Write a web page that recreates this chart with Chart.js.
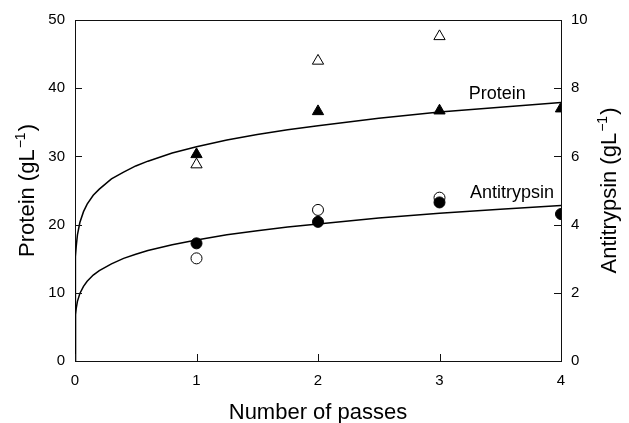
<!DOCTYPE html>
<html>
<head>
<meta charset="utf-8">
<script src="https://cdn.jsdelivr.net/npm/chart.js@4.4.1/dist/chart.umd.min.js"></script>
<style>
  body { margin: 0; background: #fff; }
  #wrap { width: 629px; height: 423px; position: relative; }
</style>
</head>
<body>
<div id="wrap"><canvas id="chart"></canvas></div>
<script>
// measured points (x = number of passes)
const passes = [1, 2, 3, 4];
const proteinFilled = [30.3, 36.6, 36.7, 37.0];      // g/L, left axis
const proteinOpen = [28.8, 44.0, 47.6];              // passes 1-3
const antitrypsinFilled = [3.45, 4.08, 4.65, 4.31];  // g/L, right axis
const antitrypsinOpen = [3.01, 4.43, 4.79];          // passes 1-3

// fitted curves
const curveX = [0, 0.002, 0.005, 0.01, 0.02, 0.04, 0.07, 0.1, 0.15, 0.2, 0.3, 0.4, 0.5, 0.6, 0.8, 1, 1.25, 1.5, 1.75, 2, 2.5, 3, 3.5, 4];
const proteinCurve = [0, 13.5, 15.3, 16.8, 18.5, 20.3, 21.9, 23.0, 24.3, 25.2, 26.7, 27.7, 28.6, 29.3, 30.5, 31.4, 32.4, 33.2, 33.9, 34.5, 35.6, 36.5, 37.2, 37.9];
const antitrypsinCurve = [0, 1.15, 1.36, 1.54, 1.75, 1.98, 2.19, 2.34, 2.52, 2.65, 2.85, 3.01, 3.13, 3.24, 3.41, 3.55, 3.70, 3.82, 3.93, 4.02, 4.19, 4.33, 4.45, 4.56];

// axis ticks
const xTicks = [0, 1, 2, 3, 4];
const proteinTicks = [0, 10, 20, 30, 40, 50];
const antitrypsinTicks = [0, 2, 4, 6, 8, 10];

// curve labels
const curveLabels = ['Protein', 'Antitrypsin'];
const curveLabelX = [3.24, 3.25];
const curveLabelY = [39.1, 4.93];
const curveLabelAxis = ['y', 'y2'];

const FONT = '"Liberation Sans", Arial, Helvetica, sans-serif';

const pts = (xs, ys) => ys.map((v, i) => ({ x: xs[i], y: v }));

// tick marks point into the plot, plus top frame line
const frameTicks = {
  id: 'frameTicks',
  afterDraw(chart) {
    const { ctx, chartArea: a, scales } = chart;
    const len = 7;
    ctx.save();
    ctx.strokeStyle = '#111';
    ctx.lineWidth = 1;
    ctx.beginPath();
    ctx.moveTo(a.left, Math.round(a.top) + 0.5);
    ctx.lineTo(a.right, Math.round(a.top) + 0.5);
    xTicks.forEach(v => {
      const px = Math.round(scales.x.getPixelForValue(v)) + 0.5;
      ctx.moveTo(px, a.bottom);
      ctx.lineTo(px, a.bottom - len);
    });
    proteinTicks.forEach(v => {
      const py = Math.round(scales.y.getPixelForValue(v)) + 0.5;
      ctx.moveTo(a.left, py);
      ctx.lineTo(a.left + len, py);
    });
    antitrypsinTicks.forEach(v => {
      const py = Math.round(scales.y2.getPixelForValue(v)) + 0.5;
      ctx.moveTo(a.right, py);
      ctx.lineTo(a.right - len, py);
    });
    ctx.stroke();

    // curve labels
    ctx.fillStyle = '#000';
    ctx.font = '18px ' + FONT;
    ctx.textBaseline = 'middle';
    ctx.textAlign = 'left';
    curveLabels.forEach((t, i) => {
      const px = scales.x.getPixelForValue(curveLabelX[i]);
      const py = scales[curveLabelAxis[i]].getPixelForValue(curveLabelY[i]);
      ctx.fillText(t, px, py);
    });
    ctx.restore();
  }
};

// axis titles with a superscript -1
function drawUnitTitle(ctx, name, cx, cy) {
  const main = name + ' (gL';
  const sup = '\u22121';
  ctx.save();
  ctx.translate(cx, cy);
  ctx.rotate(-Math.PI / 2);
  ctx.fillStyle = '#000';
  ctx.textBaseline = 'alphabetic';
  ctx.textAlign = 'left';
  ctx.font = '22px ' + FONT;
  const w1 = ctx.measureText(main).width;
  const w3 = ctx.measureText(')').width;
  ctx.font = '14px ' + FONT;
  const w2 = ctx.measureText(sup).width;
  const start = -(w1 + w2 + w3 + 2) / 2;
  const base = 7;
  ctx.font = '22px ' + FONT;
  ctx.fillText(main, start, base);
  ctx.font = '14px ' + FONT;
  ctx.fillText(sup, start + w1 + 1, base - 9);
  ctx.font = '22px ' + FONT;
  ctx.fillText(')', start + w1 + w2 + 2, base);
  ctx.restore();
}

const axisTitles = {
  id: 'axisTitles',
  afterDraw(chart) {
    const { ctx, chartArea: a } = chart;
    const cy = (a.top + a.bottom) / 2;
    drawUnitTitle(ctx, 'Protein', 27, cy);
    drawUnitTitle(ctx, 'Antitrypsin', 609, cy);
    ctx.save();
    ctx.fillStyle = '#000';
    ctx.font = '22px ' + FONT;
    ctx.textAlign = 'center';
    ctx.textBaseline = 'alphabetic';
    ctx.fillText('Number of passes', (a.left + a.right) / 2, 419);
    ctx.restore();
  }
};

const tickFont = { family: FONT, size: 15 };

new Chart(document.getElementById('chart'), {
  type: 'scatter',
  data: {
    datasets: [
      { label: 'Protein (filled)', data: pts(passes, proteinFilled), yAxisID: 'y',
        pointStyle: 'triangle', pointRadius: 6.5, backgroundColor: '#000', borderColor: '#000', borderWidth: 1 },
      { label: 'Protein (open)', data: pts(passes, proteinOpen), yAxisID: 'y',
        pointStyle: 'triangle', pointRadius: 6.5, backgroundColor: '#fff', borderColor: '#000', borderWidth: 1 },
      { label: 'Antitrypsin (filled)', data: pts(passes, antitrypsinFilled), yAxisID: 'y2',
        pointStyle: 'circle', pointRadius: 5.5, backgroundColor: '#000', borderColor: '#000', borderWidth: 1 },
      { label: 'Antitrypsin (open)', data: pts(passes, antitrypsinOpen), yAxisID: 'y2',
        pointStyle: 'circle', pointRadius: 5.5, backgroundColor: '#fff', borderColor: '#000', borderWidth: 1 },
      { label: 'Protein fit', data: pts(curveX, proteinCurve), yAxisID: 'y', type: 'line',
        showLine: true, pointRadius: 0, borderColor: '#000', borderWidth: 1.5, tension: 0, fill: false },
      { label: 'Antitrypsin fit', data: pts(curveX, antitrypsinCurve), yAxisID: 'y2', type: 'line',
        showLine: true, pointRadius: 0, borderColor: '#000', borderWidth: 1.5, tension: 0, fill: false }
    ]
  },
  options: {
    responsive: true,
    maintainAspectRatio: false,
    animation: false,
    layout: { padding: { top: 20, left: 0, right: 0, bottom: 0 } },
    plugins: { legend: { display: false }, tooltip: { enabled: false } },
    scales: {
      x: {
        type: 'linear', min: 0, max: 4,
        afterFit: s => { s.height = 62; },
        afterBuildTicks: s => { s.ticks = xTicks.map(v => ({ value: v })); },
        grid: { display: false, drawTicks: false },
        border: { display: true, color: '#111', width: 1 },
        ticks: { font: tickFont, color: '#000', padding: 11, maxRotation: 0 }
      },
      y: {
        type: 'linear', position: 'left', min: 0, max: 50,
        afterFit: s => { s.width = 75; },
        afterBuildTicks: s => { s.ticks = proteinTicks.map(v => ({ value: v })); },
        grid: { display: false, drawTicks: false },
        border: { display: true, color: '#111', width: 1 },
        ticks: { font: tickFont, color: '#000', padding: 10 }
      },
      y2: {
        type: 'linear', position: 'right', min: 0, max: 10,
        afterFit: s => { s.width = 68; },
        afterBuildTicks: s => { s.ticks = antitrypsinTicks.map(v => ({ value: v })); },
        grid: { display: false, drawTicks: false },
        border: { display: true, color: '#111', width: 1 },
        ticks: { font: tickFont, color: '#000', padding: 10 }
      }
    }
  },
  plugins: [frameTicks, axisTitles]
});
</script>
</body>
</html>
